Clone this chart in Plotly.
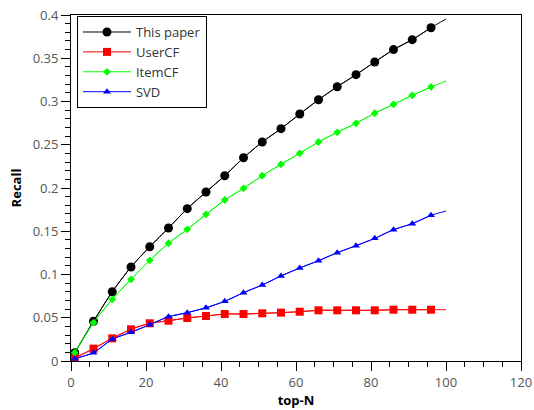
import plotly.graph_objects as go

topn = [1, 6, 11, 16, 21, 26, 31, 36, 41, 46, 51, 56, 61, 66, 71, 76, 81, 86, 91, 96]
topn_line = topn + [100]

this_paper = [0.0096, 0.0459, 0.0801, 0.1087, 0.1321, 0.1538, 0.1761, 0.1954, 0.2142, 0.235,
              0.2532, 0.2686, 0.2855, 0.302, 0.3171, 0.331, 0.3457, 0.360, 0.3715, 0.3853]
this_paper_end = 0.3954

usercf = [0.0035, 0.0143, 0.0262, 0.0366, 0.0436, 0.0466, 0.0497, 0.052, 0.0543, 0.0543,
          0.0551, 0.0559, 0.057, 0.0586, 0.0586, 0.0586, 0.0586, 0.0593, 0.0593, 0.0593]
usercf_end = 0.0593

itemcf = [0.0096, 0.0443, 0.0713, 0.0944, 0.1164, 0.1361, 0.1522, 0.1696, 0.1861, 0.1996,
          0.2142, 0.2274, 0.2401, 0.2532, 0.2644, 0.2748, 0.2864, 0.2967, 0.3071, 0.3168]
itemcf_end = 0.3237

svd = [0.0027, 0.0096, 0.0251, 0.0332, 0.042, 0.0512, 0.0559, 0.0616, 0.069, 0.079,
       0.0879, 0.0983, 0.1075, 0.116, 0.1252, 0.1333, 0.1418, 0.1518, 0.1588, 0.1684]
svd_end = 0.1734

series = [
    ("This paper", this_paper, this_paper_end, "black", "circle", 9),
    ("UserCF", usercf, usercf_end, "#ff0000", "square", 8),
    ("ItemCF", itemcf, itemcf_end, "#00ff00", "diamond", 6),
    ("SVD", svd, svd_end, "#0000ff", "triangle-up", 7),
]

fig = go.Figure()
for name, vals, end, color, sym, size in series:
    fig.add_trace(go.Scatter(
        x=topn_line, y=vals + [end], mode="lines",
        line=dict(color=color, width=1, shape="spline", smoothing=0.6),
        showlegend=False, hoverinfo="skip"))
for name, vals, end, color, sym, size in series:
    fig.add_trace(go.Scatter(
        x=topn, y=vals, mode="lines+markers", name=name,
        line=dict(color=color, width=1, shape="spline", smoothing=0.6),
        marker=dict(symbol=sym, size=size, color=color)))

axis_common = dict(
    showline=True, linecolor="black", linewidth=1, mirror=True,
    showgrid=False, zeroline=False, automargin=False,
    ticks="outside", ticklen=9, tickwidth=1, tickcolor="black",
    tickfont=dict(family="Open Sans", size=13, color="#555555"),
)

fig.update_layout(
    width=534, height=410,
    margin=dict(l=71, r=13, t=15, b=49),
    paper_bgcolor="white", plot_bgcolor="white",
    font=dict(family="Open Sans", size=13, color="black"),
    xaxis=dict(range=[0, 120], dtick=20, tick0=0,
               minor=dict(dtick=5, ticks="outside", ticklen=5, tickcolor="black"),
               title=dict(text="<b>top-N</b>", font=dict(size=13), standoff=6),
               **axis_common),
    yaxis=dict(range=[0, 0.4], dtick=0.05, tick0=0,
               minor=dict(dtick=0.01, ticks="outside", ticklen=5, tickcolor="black"),
               title=dict(text="<b>Recall</b>", font=dict(size=13), standoff=8),
               **axis_common),
    legend=dict(x=0.0133, y=0.997, xanchor="left", yanchor="top",
                bordercolor="black", borderwidth=1, bgcolor="white",
                font=dict(family="Open Sans", size=13, color="#333333"),
                itemwidth=48, tracegroupgap=0),
)

fig.write_html("out.html")
